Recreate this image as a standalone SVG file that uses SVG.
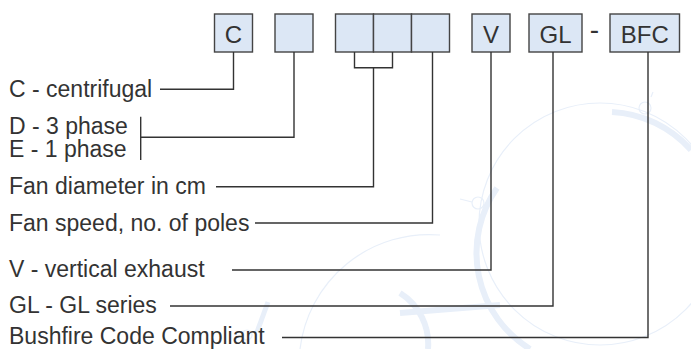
<svg xmlns="http://www.w3.org/2000/svg" width="691" height="349" viewBox="0 0 691 349">
<style>
.box{fill:#dce7f5;stroke:#444;stroke-width:1.4}
.bt{font-family:"Liberation Sans",Arial,sans-serif;font-size:24px;fill:#333;text-anchor:middle}
.lbl{font-family:"Liberation Sans",Arial,sans-serif;font-size:23px;fill:#333}
.con{fill:none;stroke:#333;stroke-width:1.4}
.wm{fill:none;stroke:#e8eff9}
</style>
<g id="watermark">
<circle class="wm" cx="600" cy="224" r="121" stroke-width="1.2"/>
<path class="wm" d="M497,188 A113,113 0 0 0 530,349" stroke-width="6"/>
<path class="wm" d="M612,112 A113,113 0 0 1 691,150" stroke-width="6"/>
<circle class="wm" cx="478" cy="203" r="6" stroke-width="1.2"/>
<circle class="wm" cx="645" cy="108" r="6" stroke-width="1.2"/>
<path class="wm" d="M460,199 L472,202 M651,97 L653,92" stroke-width="1.2"/>
<path class="wm" d="M300,349 A130,130 0 0 1 440,235" stroke-width="1.2"/>
<path class="wm" d="M257,332 L268,302" stroke-width="5"/>
<circle class="wm" cx="247" cy="335" r="5" stroke-width="1.2"/>
<path class="wm" d="M400,313 L500,305" stroke-width="6"/>
<path class="wm" d="M400,293 A60,60 0 0 1 428,349" stroke-width="6"/>
</g>
<g id="node-c"><rect class="box" x="214.5" y="14" width="38" height="38"/><text class="bt" x="233.5" y="42.5">C</text></g>
<g id="node-phase"><rect class="box" x="275" y="14" width="38" height="38"/></g>
<g id="node-diam1"><rect class="box" x="335.5" y="14" width="38" height="38"/></g>
<g id="node-diam2"><rect class="box" x="373.5" y="14" width="38" height="38"/></g>
<g id="node-poles"><rect class="box" x="411.5" y="14" width="38" height="38"/></g>
<g id="node-v"><rect class="box" x="472" y="14" width="38" height="38"/><text class="bt" x="491" y="42.5">V</text></g>
<g id="node-gl"><rect class="box" x="529" y="14" width="53" height="38"/><text class="bt" x="555.5" y="42.5">GL</text></g>
<g id="dash"><text class="bt" x="594.5" y="38.5" style="font-size:28px">-</text></g>
<g id="node-bfc"><rect class="box" x="610" y="14" width="69.5" height="38"/><text class="bt" x="644.75" y="42.5">BFC</text></g>
<g id="labels">
<text class="lbl" x="9" y="97">C - centrifugal</text>
<text class="lbl" x="9" y="133.5">D - 3 phase</text>
<text class="lbl" x="9" y="157">E - 1 phase</text>
<text class="lbl" x="9" y="194">Fan diameter in cm</text>
<text class="lbl" x="9" y="230.5">Fan speed, no. of poles</text>
<text class="lbl" x="9" y="277">V - vertical exhaust</text>
<text class="lbl" x="9" y="312.5">GL - GL series</text>
<text class="lbl" x="9" y="344">Bushfire Code Compliant</text>
</g>
<g id="connectors">
<path class="con" d="M233.5,52 V89.3 H160"/>
<path class="con" d="M294,52 V137.3 H140.7"/>
<path class="con" d="M140.7,116.7 V160"/>
<path class="con" d="M354.5,52 V67.7 H392.5 V52"/>
<path class="con" d="M373.5,67.7 V186.7 H216"/>
<path class="con" d="M432.5,52 V223 H255"/>
<path class="con" d="M491,52 V270 H232"/>
<path class="con" d="M553,52 V306 H170"/>
<path class="con" d="M648,52 V337.5 H282"/>
</g>
</svg>
